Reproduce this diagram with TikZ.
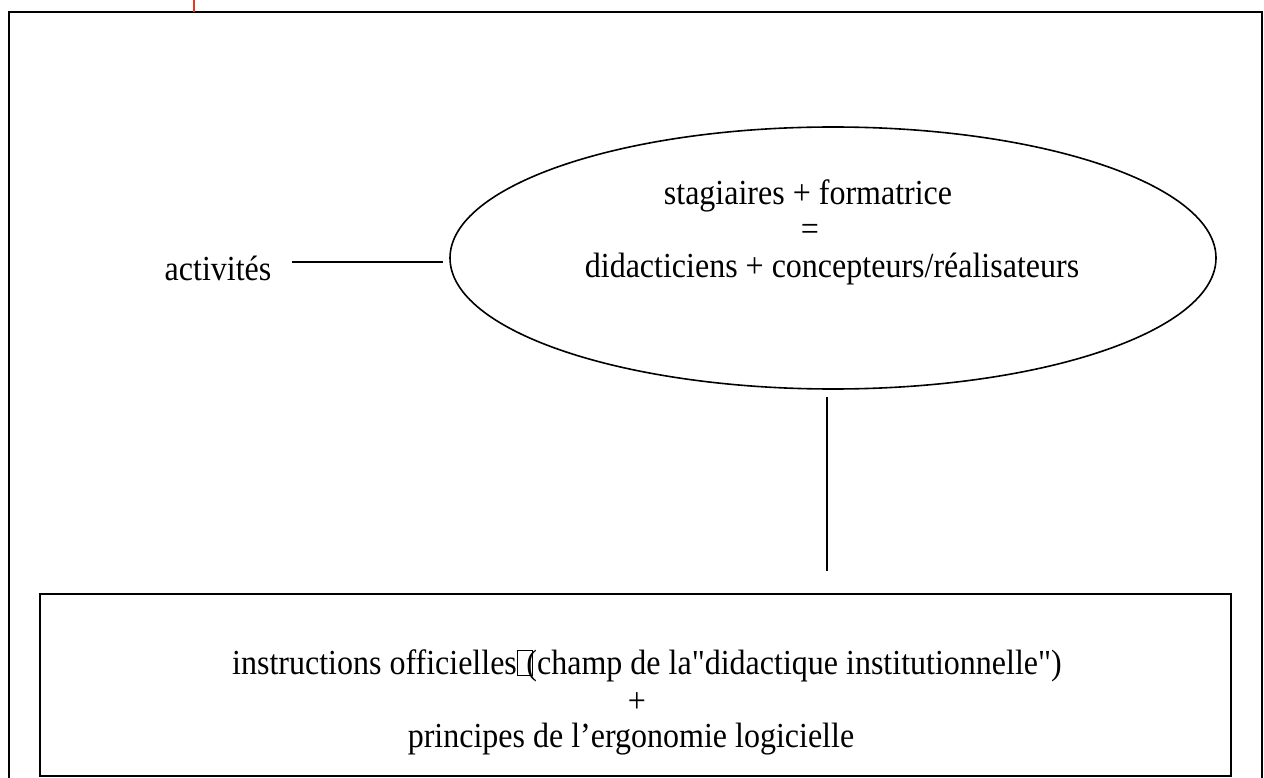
\documentclass[tikz,border=0pt]{standalone}
\usepackage{fontspec}
\usepackage{graphicx}
\newfontfamily\tnr{Liberation Serif}
\newcommand{\tallt}[1]{\scalebox{1}[1.1]{#1}}
\usetikzlibrary{shapes.geometric}
\definecolor{redmark}{HTML}{E8391D}
\begin{document}
\begin{tikzpicture}[x=1pt,y=-1pt,
  frame/.style={line width=2pt,black},
  conn/.style={line width=1.8pt,black},
  lbl/.style={font=\tnr\fontsize{32}{38}\selectfont,inner sep=0pt,align=center}]
\useasboundingbox (0,0) rectangle (1264,778);
% outer frame (open at bottom)
\draw[frame] (8.5,778) -- (8.5,12.5) -- (1262,12.5) -- (1262,778);
\draw[redmark,line width=1.8pt] (194,0) -- (194,12.5);
% ellipse
\node[draw,ellipse,line width=1.6pt,minimum width=766pt,minimum height=262pt,inner sep=0pt] (ell) at (833,258) {};
\node[lbl] (t1) at (808,196) {\tallt{stagiaires + formatrice}};
\node[lbl] (t2) at (810,232) {\tallt{=}};
\node[lbl] (t3) at (832,269) {\tallt{didacticiens + concepteurs/réalisateurs}};
\node[lbl] (act) at (218,268) {\tallt{activités}};
\coordinate (la) at (292,262);
\coordinate (lb) at (443,262);
\draw[conn] (la) -- (lb);
% bottom box
\node[draw,line width=2pt,minimum width=1191pt,minimum height=182pt,inner sep=0pt] (box) at (635.5,685) {};
\coordinate (va) at (827,397);
\coordinate (vb) at (827,571);
\draw[conn] (va) -- (vb);
\node[lbl] (b1) at (647,666) {\tallt{instructions officielles{\fboxsep=0pt\fboxrule=1.2pt\framebox[0.5em]{\rule{0pt}{0.68em}}}\kern-0.2em(champ de la"didactique institutionnelle")}};
\node[lbl] (b2) at (637,703) {\tallt{+}};
\node[lbl] (b3) at (631,739) {\tallt{principes de l’ergonomie logicielle}};
\end{tikzpicture}
\end{document}
